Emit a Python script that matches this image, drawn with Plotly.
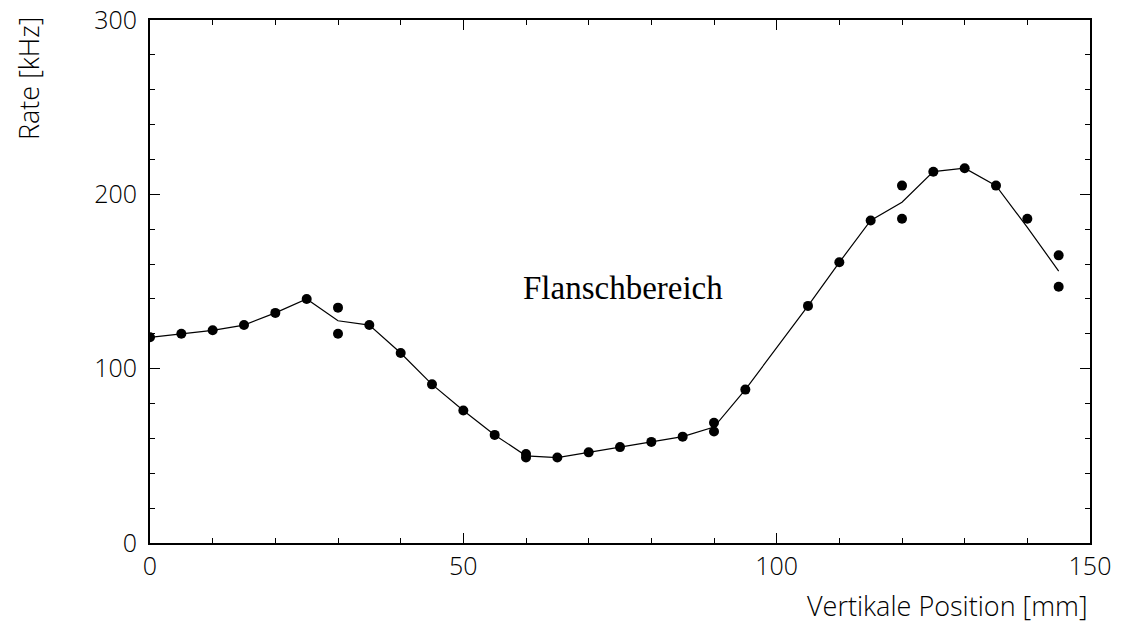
import plotly.graph_objects as go

# Measured points (Vertikale Position [mm], Rate [kHz])
pos_mm = [0, 5, 10, 15, 20, 25, 30, 30, 35, 40, 45, 50, 55, 60, 60, 65, 70, 75,
          80, 85, 90, 90, 95, 105, 110, 115, 120, 120, 125, 130, 135, 140, 145, 145]
rate_khz = [118, 120, 122, 125, 132, 140, 135, 120, 125, 109, 91, 76, 62, 51, 49, 49, 52, 55,
            58, 61, 69, 64, 88, 136, 161, 185, 205, 186, 213, 215, 205, 186, 165, 147]

# Connecting line (mean curve)
line_pos = [0, 5, 10, 15, 20, 25, 30, 35, 40, 45, 50, 55, 60, 65, 70, 75, 80, 85,
            90, 95, 105, 110, 115, 120, 125, 130, 135, 140, 145]
line_rate = [118, 120, 122, 125, 132, 140, 127.5, 125, 109, 91, 76, 62, 50, 49, 52, 55, 58, 61,
             66.5, 88, 136, 161, 185, 195.5, 213, 215, 205, 181, 156]

y_tickvals = [0, 100, 200, 300]
x_tickvals = [0, 50, 100, 150]

label_text = "Flanschbereich"
x_title = "Vertikale Position [mm]"
y_title = "Rate [kHz]"

sans = "Open Sans, Roboto, DejaVu Sans"

fig = go.Figure()
fig.add_trace(go.Scatter(x=line_pos, y=line_rate, mode="lines",
                         line=dict(color="black", width=1.2), hoverinfo="skip"))
fig.add_trace(go.Scatter(x=pos_mm, y=rate_khz, mode="markers",
                         marker=dict(color="black", size=10)))

axis_common = dict(showgrid=False, zeroline=False, showline=True, linecolor="black",
                   linewidth=2, mirror="allticks", ticks="inside", tickcolor="black",
                   ticklen=10, tickwidth=1.2, automargin=False,
                   tickfont=dict(family=sans, size=25, color="black", weight=300))

fig.update_xaxes(range=[0, 150], tickmode="array", tickvals=x_tickvals,
                 minor=dict(dtick=10, tick0=0, ticks="inside", ticklen=5, tickcolor="black", tickwidth=1),
                 **axis_common)
fig.update_yaxes(range=[0, 300], tickmode="array", tickvals=y_tickvals, ticklabelstandoff=6,
                 minor=dict(dtick=20, tick0=0, ticks="inside", ticklen=5, tickcolor="black", tickwidth=1),
                 **axis_common)

fig.add_annotation(x=75.5, y=146, xref="x", yref="y", text=label_text, showarrow=False,
                   font=dict(family="Liberation Serif, DejaVu Serif", size=33, color="black"))
fig.add_annotation(x=1, y=-0.08, xref="paper", yref="paper", xanchor="right", yanchor="top",
                   text=x_title, showarrow=False,
                   font=dict(family=sans, size=27, color="black", weight=300))
fig.add_annotation(x=-0.13, y=1.01, xref="paper", yref="paper", xanchor="center", yanchor="top",
                   text=y_title, showarrow=False, textangle=-90,
                   font=dict(family=sans, size=27, color="black", weight=300))

fig.update_layout(width=1125, height=623, margin=dict(l=150, r=35, t=20, b=80),
                  plot_bgcolor="white", paper_bgcolor="white", showlegend=False)

fig.write_html("out.html", config={"displayModeBar": False},
               post_script="document.body.style.margin='0';document.body.style.padding='0';")
